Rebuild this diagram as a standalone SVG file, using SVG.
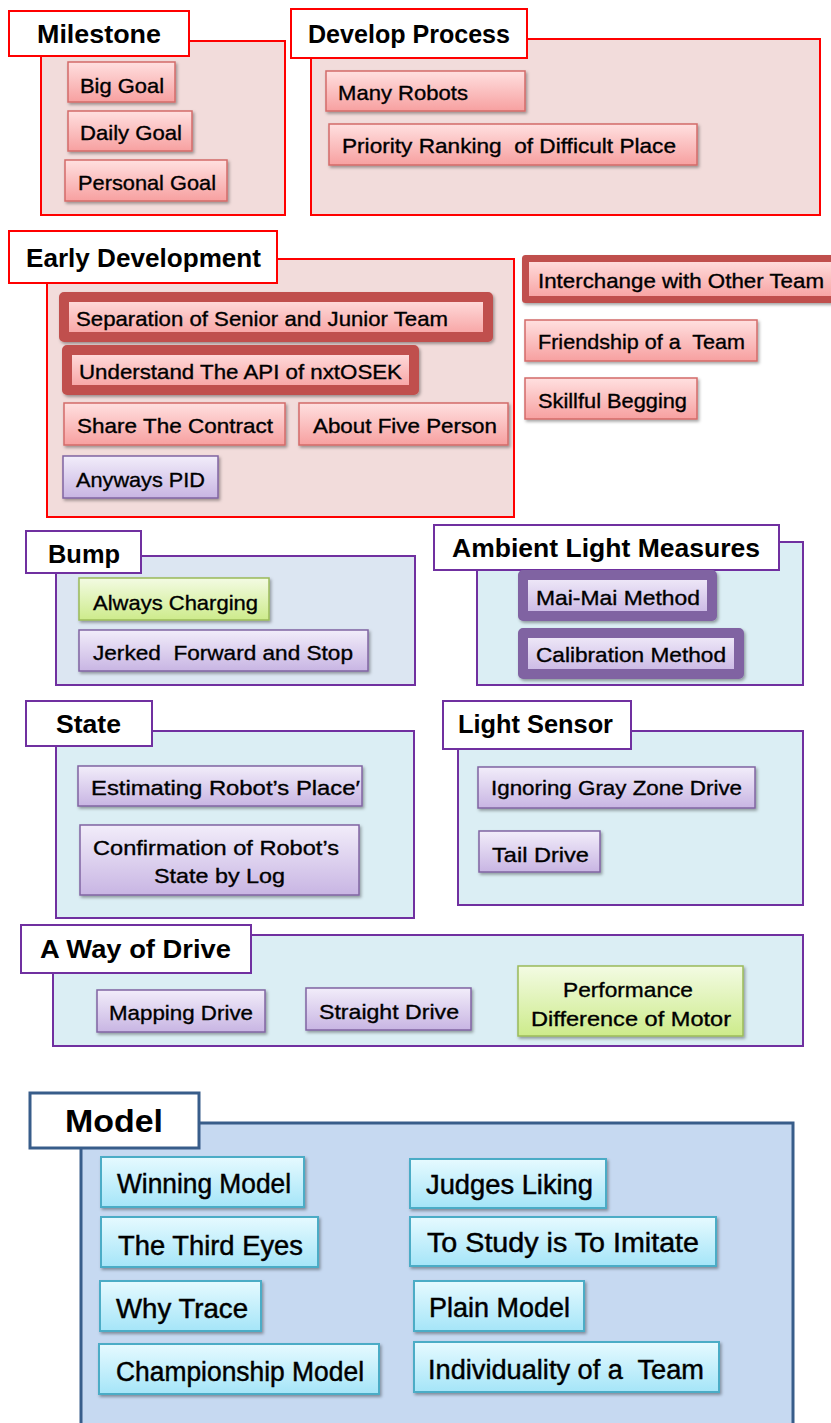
<svg xmlns="http://www.w3.org/2000/svg" width="831" height="1423" viewBox="0 0 831 1423">
<style>
.cR{fill:#f2dcdb;stroke:#ff0000;stroke-width:2}
.cB{fill:#dce6f2;stroke:#7030a0;stroke-width:2}
.cL{fill:#dbeef4;stroke:#7030a0;stroke-width:2}
.cM{fill:#c6d9f1;stroke:#385d8a;stroke-width:3}
.tR{fill:#fff;stroke:#ff0000;stroke-width:2}
.tP{fill:#fff;stroke:#7030a0;stroke-width:2}
.tM{fill:#fff;stroke:#385d8a;stroke-width:3}
.nR{fill:url(#gR);stroke:#d36b69;stroke-width:1.5;filter:url(#sh)}
.nP{fill:url(#gP);stroke:#8064a2;stroke-width:1.5;filter:url(#sh)}
.nG{fill:url(#gG);stroke:#9bbb59;stroke-width:1.5;filter:url(#sh)}
.nC{fill:url(#gC);stroke:#4bacc6;stroke-width:2;filter:url(#sh)}
.kR{fill:url(#gR);stroke:#c0504d;stroke-width:10;stroke-linejoin:round;filter:url(#sh)}
.kP{fill:url(#gP);stroke:#8064a2;stroke-width:10;stroke-linejoin:round;filter:url(#sh)}
.h{font-family:"Liberation Sans",Arial,sans-serif;font-weight:bold;font-size:25px;fill:#000}
.hm{font-size:32px}
.n{font-family:"Liberation Sans",Arial,sans-serif;font-size:21px;fill:#000;stroke:#000;stroke-width:0.35}
.m{font-size:27px;stroke-width:0.45}
.c{text-anchor:middle}
</style>
<defs>
<linearGradient id="gR" x1="0" y1="0" x2="0" y2="1"><stop offset="0" stop-color="#ffe0e0"/><stop offset="1" stop-color="#f7a0a0"/></linearGradient>
<linearGradient id="gP" x1="0" y1="0" x2="0" y2="1"><stop offset="0" stop-color="#f2edfa"/><stop offset="1" stop-color="#c8b5e3"/></linearGradient>
<linearGradient id="gG" x1="0" y1="0" x2="0" y2="1"><stop offset="0" stop-color="#f3fbe3"/><stop offset="1" stop-color="#cdeb8b"/></linearGradient>
<linearGradient id="gC" x1="0" y1="0" x2="0" y2="1"><stop offset="0" stop-color="#e6faff"/><stop offset="1" stop-color="#a5e5f8"/></linearGradient>
<filter id="sh" x="-10%" y="-20%" width="120%" height="150%"><feDropShadow dx="1.5" dy="2" stdDeviation="1.5" flood-color="#000" flood-opacity="0.35"/></filter>
</defs>

<g id="connectors"/>

<g id="milestone">
<rect class="cR" x="41" y="41" width="244" height="174"/>
<rect class="tR" x="9" y="11" width="180" height="45"/>
<text class="h" x="37" y="43" textLength="124" lengthAdjust="spacingAndGlyphs">Milestone</text>
</g>
<g id="big-goal"><rect class="nR" x="68" y="62" width="107" height="40"/><text class="n" x="80" y="93" textLength="84" lengthAdjust="spacingAndGlyphs">Big Goal</text></g>
<g id="daily-goal"><rect class="nR" x="68" y="111" width="124" height="40"/><text class="n" x="80" y="140" textLength="102" lengthAdjust="spacingAndGlyphs">Daily Goal</text></g>
<g id="personal-goal"><rect class="nR" x="65" y="160" width="162" height="41"/><text class="n" x="78" y="190" textLength="138" lengthAdjust="spacingAndGlyphs">Personal Goal</text></g>

<g id="develop-process">
<rect class="cR" x="311" y="39" width="509" height="176"/>
<rect class="tR" x="291" y="9" width="236" height="49"/>
<text class="h" x="308" y="43" textLength="202" lengthAdjust="spacingAndGlyphs">Develop Process</text>
</g>
<g id="many-robots"><rect class="nR" x="326" y="71" width="199" height="40"/><text class="n" x="338" y="100" textLength="130" lengthAdjust="spacingAndGlyphs">Many Robots</text></g>
<g id="priority-ranking"><rect class="nR" x="329" y="124" width="368" height="41"/><text class="n" x="342" y="153" textLength="334" lengthAdjust="spacingAndGlyphs" xml:space="preserve">Priority Ranking  of Difficult Place</text></g>

<g id="early-development">
<rect class="cR" x="47" y="259" width="467" height="258"/>
<rect class="tR" x="9" y="231" width="268" height="52"/>
<text class="h" x="26" y="267" textLength="235" lengthAdjust="spacingAndGlyphs">Early Development</text>
</g>
<g id="separation"><rect class="kR" x="64" y="297" width="424" height="40"/><text class="n" x="76" y="326" textLength="372" lengthAdjust="spacingAndGlyphs">Separation of Senior and Junior Team</text></g>
<g id="understand-api"><rect class="kR" x="67" y="350" width="347" height="40"/><text class="n" x="79" y="379" textLength="323" lengthAdjust="spacingAndGlyphs">Understand The API of nxtOSEK</text></g>
<g id="share-contract"><rect class="nR" x="64" y="403" width="221" height="42"/><text class="n" x="77" y="433" textLength="196" lengthAdjust="spacingAndGlyphs">Share The Contract</text></g>
<g id="about-five"><rect class="nR" x="299" y="403" width="209" height="42"/><text class="n" x="313" y="433" textLength="184" lengthAdjust="spacingAndGlyphs">About Five Person</text></g>
<g id="anyways-pid"><rect class="nP" x="63" y="456" width="155" height="42"/><text class="n" x="76" y="487" textLength="129" lengthAdjust="spacingAndGlyphs">Anyways PID</text></g>

<g id="interchange"><rect class="kR" x="525.5" y="258.5" width="330" height="41" style="stroke-width:7"/><text class="n" x="538" y="288" textLength="286" lengthAdjust="spacingAndGlyphs">Interchange with Other Team</text></g>
<g id="friendship"><rect class="nR" x="525" y="320" width="232" height="41"/><text class="n" x="538" y="349" textLength="207" lengthAdjust="spacingAndGlyphs" xml:space="preserve">Friendship of a  Team</text></g>
<g id="skillful-begging"><rect class="nR" x="525" y="378" width="172" height="41"/><text class="n" x="538" y="408" textLength="149" lengthAdjust="spacingAndGlyphs">Skillful Begging</text></g>

<g id="bump">
<rect class="cB" x="56" y="556" width="359" height="129"/>
<rect class="tP" x="26" y="531" width="115" height="42"/>
<text class="h" x="48" y="563" textLength="72" lengthAdjust="spacingAndGlyphs">Bump</text>
</g>
<g id="always-charging"><rect class="nG" x="79" y="578" width="190" height="42"/><text class="n" x="93" y="610" textLength="165" lengthAdjust="spacingAndGlyphs">Always Charging</text></g>
<g id="jerked"><rect class="nP" x="79" y="630" width="289" height="41"/><text class="n" x="93" y="660" textLength="260" lengthAdjust="spacingAndGlyphs" xml:space="preserve">Jerked  Forward and Stop</text></g>

<g id="ambient-light">
<rect class="cL" x="477" y="542" width="326" height="143"/>
<rect class="tP" x="434" y="525" width="345" height="45"/>
<text class="h" x="452" y="557" textLength="308" lengthAdjust="spacingAndGlyphs">Ambient Light Measures</text>
</g>
<g id="mai-mai"><rect class="kP" x="523" y="575" width="189" height="41"/><text class="n" x="536" y="605" textLength="164" lengthAdjust="spacingAndGlyphs">Mai-Mai Method</text></g>
<g id="calibration"><rect class="kP" x="523" y="633" width="216" height="41"/><text class="n" x="536" y="662" textLength="190" lengthAdjust="spacingAndGlyphs">Calibration Method</text></g>

<g id="state">
<rect class="cL" x="56" y="731" width="358" height="187"/>
<rect class="tP" x="26" y="701" width="126" height="45"/>
<text class="h" x="56" y="733" textLength="65" lengthAdjust="spacingAndGlyphs">State</text>
</g>
<g id="estimating"><rect class="nP" x="78" y="766" width="284" height="40"/><text class="n" x="91" y="795" textLength="269" lengthAdjust="spacingAndGlyphs">Estimating Robot’s Place′</text></g>
<g id="confirmation"><rect class="nP" x="80" y="825" width="279" height="70"/><text class="n" x="93" y="855" textLength="246" lengthAdjust="spacingAndGlyphs">Confirmation of Robot’s</text><text class="n" x="154" y="883" textLength="131" lengthAdjust="spacingAndGlyphs">State by Log</text></g>

<g id="light-sensor">
<rect class="cL" x="458" y="731" width="345" height="174"/>
<rect class="tP" x="443" y="701" width="188" height="48"/>
<text class="h" x="458" y="733" textLength="155" lengthAdjust="spacingAndGlyphs">Light Sensor</text>
</g>
<g id="ignoring-gray"><rect class="nP" x="478" y="767" width="277" height="41"/><text class="n" x="491" y="795" textLength="251" lengthAdjust="spacingAndGlyphs">Ignoring Gray Zone Drive</text></g>
<g id="tail-drive"><rect class="nP" x="479" y="831" width="121" height="41"/><text class="n" x="492" y="862" textLength="97" lengthAdjust="spacingAndGlyphs">Tail Drive</text></g>

<g id="way-of-drive">
<rect class="cL" x="53" y="935" width="750" height="111"/>
<rect class="tP" x="21" y="925" width="230" height="48"/>
<text class="h" x="40" y="958" textLength="191" lengthAdjust="spacingAndGlyphs">A Way of Drive</text>
</g>
<g id="mapping-drive"><rect class="nP" x="97" y="990" width="168" height="42"/><text class="n" x="109" y="1020" textLength="144" lengthAdjust="spacingAndGlyphs">Mapping Drive</text></g>
<g id="straight-drive"><rect class="nP" x="306" y="988" width="165" height="42"/><text class="n" x="319" y="1019" textLength="140" lengthAdjust="spacingAndGlyphs">Straight Drive</text></g>
<g id="performance"><rect class="nG" x="518" y="966" width="225" height="70"/><text class="n" x="563" y="997" textLength="130" lengthAdjust="spacingAndGlyphs">Performance</text><text class="n" x="531" y="1026" textLength="200" lengthAdjust="spacingAndGlyphs">Difference of Motor</text></g>

<g id="model">
<rect class="cM" x="81" y="1123" width="712" height="320"/>
<rect class="tM" x="30" y="1093" width="169" height="55"/>
<text class="h hm" x="65" y="1132" textLength="98" lengthAdjust="spacingAndGlyphs">Model</text>
</g>
<g id="winning-model"><rect class="nC" x="101" y="1157" width="203" height="50"/><text class="n m" x="117" y="1193" textLength="174" lengthAdjust="spacingAndGlyphs">Winning Model</text></g>
<g id="third-eyes"><rect class="nC" x="101" y="1217" width="217" height="50"/><text class="n m" x="118" y="1255" textLength="185" lengthAdjust="spacingAndGlyphs">The Third Eyes</text></g>
<g id="why-trace"><rect class="nC" x="100" y="1281" width="161" height="50"/><text class="n m" x="116" y="1318" textLength="132" lengthAdjust="spacingAndGlyphs">Why Trace</text></g>
<g id="championship-model"><rect class="nC" x="99" y="1344" width="280" height="50"/><text class="n m" x="116" y="1381" textLength="248" lengthAdjust="spacingAndGlyphs">Championship Model</text></g>
<g id="judges-liking"><rect class="nC" x="410" y="1159" width="196" height="49"/><text class="n m" x="426" y="1194" textLength="167" lengthAdjust="spacingAndGlyphs">Judges Liking</text></g>
<g id="to-study"><rect class="nC" x="410" y="1217" width="306" height="49"/><text class="n m" x="427" y="1252" textLength="272" lengthAdjust="spacingAndGlyphs">To Study is To Imitate</text></g>
<g id="plain-model"><rect class="nC" x="414" y="1281" width="170" height="50"/><text class="n m" x="429" y="1317" textLength="141" lengthAdjust="spacingAndGlyphs">Plain Model</text></g>
<g id="individuality"><rect class="nC" x="414" y="1342" width="305" height="50"/><text class="n m" x="428" y="1379" textLength="276" lengthAdjust="spacingAndGlyphs" xml:space="preserve">Individuality of a  Team</text></g>
</svg>
